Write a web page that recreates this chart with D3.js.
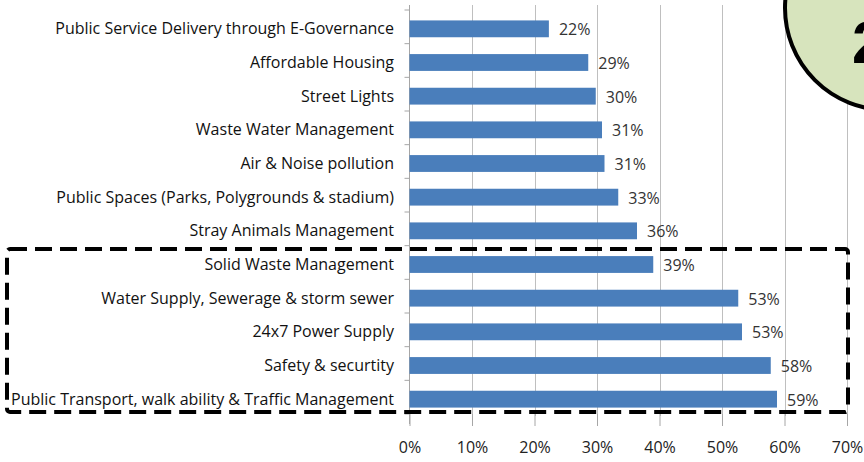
<!DOCTYPE html>
<html>
<head>
<meta charset="utf-8">
<script src="https://cdn.jsdelivr.net/npm/d3@7"></script>
<style>
  body { margin: 0; background: #fff; }
  text { font-family: "Open Sans", sans-serif; }
</style>
</head>
<body>
<div id="chart"></div>
<script>
// Categories, top to bottom
const services = [
    "Public Service Delivery through E-Governance",
    "Affordable Housing",
    "Street Lights",
    "Waste Water Management",
    "Air & Noise pollution",
    "Public Spaces (Parks, Polygrounds & stadium)",
    "Stray Animals Management",
    "Solid Waste Management",
    "Water Supply, Sewerage & storm sewer",
    "24x7 Power Supply",
    "Safety & securtity",
    "Public Transport, walk ability & Traffic Management"
];

// Share of respondents (fraction)
const shares = [0.223, 0.286, 0.298, 0.308, 0.312, 0.334, 0.364, 0.390, 0.526, 0.532, 0.578, 0.588];

const xTicks = [0, 0.1, 0.2, 0.3, 0.4, 0.5, 0.6, 0.7];

// the boxed (highlighted) categories
const highlighted = services.slice(7);

const data = services.map((s, i) => ({service: s, share: shares[i]}));

const W = 864, H = 462;
const plotLeft = 409.5, plotRight = 847, plotTop = 12, plotBottom = 416;

const svg = d3.select("#chart")
    .append("svg")
    .attr("width", W)
    .attr("height", H);

const x = d3.scaleLinear()
    .domain([0, 0.7])
    .range([plotLeft, plotRight]);

const y = d3.scaleBand()
    .domain(services)
    .range([plotTop, plotBottom])
    .paddingInner(0.5)
    .paddingOuter(0.25);

// Gridlines
svg.append("g")
    .selectAll("line")
    .data(xTicks.slice(1))
    .enter()
    .append("line")
    .attr("x1", d => Math.round(x(d)) + 0.5).attr("x2", d => Math.round(x(d)) + 0.5)
    .attr("y1", 5).attr("y2", plotBottom)
    .attr("stroke", "#bfbfbf").attr("stroke-width", 1);

// Bottom axis with outward ticks
const xAxis = svg.append("g")
    .attr("transform", `translate(0,${plotBottom - 2})`)
    .call(d3.axisBottom(x).tickValues(xTicks).tickFormat(d3.format(".0%")).tickSize(12).tickPadding(16));
xAxis.select(".domain").remove();
xAxis.selectAll("line").attr("stroke", "#a6a6a6");
xAxis.selectAll("text")
    .attr("font-size", 16)
    .attr("fill", "#222")
    .style("font-family", '"Open Sans", sans-serif');

// Left axis: line plus ticks between categories
svg.append("line")
    .attr("x1", plotLeft).attr("x2", plotLeft)
    .attr("y1", 5).attr("y2", plotBottom + 8)
    .attr("stroke", "#a6a6a6");

const bounds = d3.range(services.length + 1).map(i => plotTop - 2 + i * (plotBottom - plotTop) / services.length);
svg.append("g")
    .selectAll("line")
    .data(bounds)
    .enter()
    .append("line")
    .attr("x1", plotLeft - 5).attr("x2", plotLeft)
    .attr("y1", d => d).attr("y2", d => d)
    .attr("stroke", "#a6a6a6");

// Category labels
svg.append("g")
    .selectAll("text")
    .data(data)
    .enter()
    .append("text")
    .attr("x", 394)
    .attr("y", d => y(d.service) + y.bandwidth() / 2)
    .attr("dy", "0.35em")
    .attr("text-anchor", "end")
    .attr("font-size", 16)
    .attr("fill", "#111")
    .text(d => d.service);

// Bars
svg.append("g")
    .selectAll("rect")
    .data(data)
    .enter()
    .append("rect")
    .attr("x", x(0))
    .attr("y", d => y(d.service))
    .attr("width", d => x(d.share) - x(0))
    .attr("height", y.bandwidth())
    .attr("fill", "#4a7ebb");

// Value labels
svg.append("g")
    .selectAll("text")
    .data(data)
    .enter()
    .append("text")
    .attr("x", d => x(d.share) + 10)
    .attr("y", d => y(d.service) + y.bandwidth() / 2)
    .attr("dy", "0.4em")
    .attr("font-size", 16)
    .attr("fill", "#333")
    .text(d => d3.format(".0%")(d.share));

// Dashed highlight box round the last five categories
const boxTop = y(highlighted[0]) - 7;
const boxBottom = y(highlighted[highlighted.length - 1]) + y.bandwidth() + 4.5;
svg.append("rect")
    .attr("x", 7).attr("y", boxTop)
    .attr("width", 841).attr("height", boxBottom - boxTop)
    .attr("rx", 3)
    .attr("fill", "none")
    .attr("stroke", "#000")
    .attr("stroke-width", 4)
    .attr("stroke-dasharray", "17 8");

// Round badge, mostly cut off at the top right
svg.append("circle")
    .attr("cx", 887).attr("cy", 8).attr("r", 102)
    .attr("fill", "#d7e4bd")
    .attr("stroke", "#000")
    .attr("stroke-width", 4);

svg.append("text")
    .attr("x", 852).attr("y", 63)
    .attr("font-size", 60)
    .attr("font-weight", "bold")
    .attr("fill", "#000")
    .style("font-family", '"Liberation Sans", sans-serif')
    .text("2");
</script>
</body>
</html>
